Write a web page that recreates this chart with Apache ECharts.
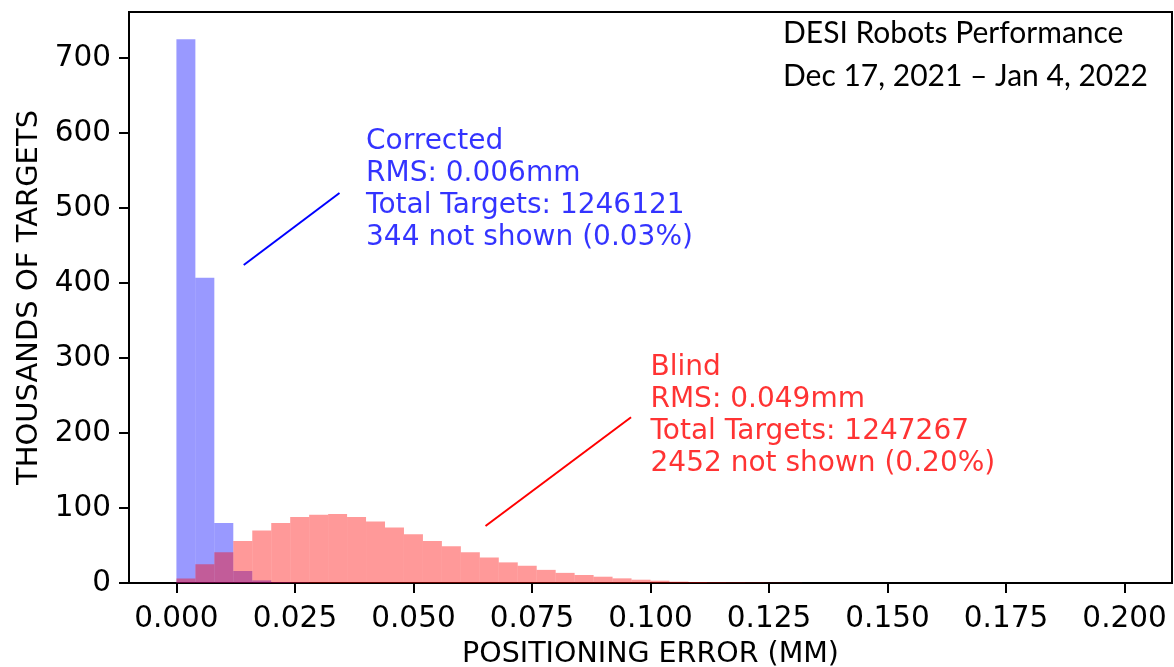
<!DOCTYPE html>
<html><head><meta charset="utf-8">
<script src="https://cdn.jsdelivr.net/npm/echarts@6/dist/echarts.min.js"></script>
<style>html,body{margin:0;padding:0;background:#fff}#c{width:1174px;height:667px}</style>
</head><body><div id="c"></div>
<script>
// bin left edges (mm), each bin 0.004 mm wide
const binLeft = [0.000,0.004,0.008,0.012,0.016,0.020,0.024,0.028,0.032,0.036,0.040,0.044,0.048,0.052,0.056,0.060,0.064,0.068,0.072,0.076,0.080,0.084,0.088,0.092,0.096,0.100,0.104,0.108,0.112,0.116,0.120,0.124,0.128];
const binWidth = 0.004;
// thousands of targets per bin
const correctedCounts = [725,407,80,16,3.5,1,0.5];
const blindCounts = [6,25,41,56,70,80,88,91,92,88,82,74,65,56,49,41,34,27.5,23,17.5,13.5,10.7,8.4,6.2,4.4,3.1,1.8,1.3,1.0,0.8,0.6,0.4,0.3];
const xTicks = [0,0.025,0.05,0.075,0.1,0.125,0.15,0.175,0.2];
const yTicks = [0,100,200,300,400,500,600,700];
const correctedText = ['Corrected','RMS: 0.006mm','Total Targets: 1246121','344 not shown (0.03%)'];
const blindText = ['Blind','RMS: 0.049mm','Total Targets: 1247267','2452 not shown (0.20%)'];
const correctedPointer = [[0.0142,424],[0.0344,520]];
const blindPointer = [[0.0652,76],[0.0959,221]];
const correctedTextAnchor = [0.04,609];
const blindTextAnchor = [0.10,309];
const titleLines = ['DESI Robots Performance','Dec 17, 2021 \u2013 Jan 4, 2022'];

const FONT = 'DejaVu Sans';
function histData(counts){
  return counts.map((v,i)=>[binLeft[i], binLeft[i]+binWidth, v]);
}
function histRender(color){
  return function(params, api){
    const x0=api.value(0), x1=api.value(1), v=api.value(2);
    if(!v) return;
    const p0=api.coord([x0,v]), p1=api.coord([x1,0]);
    return {type:'rect', shape:{x:p0[0], y:p0[1], width:p1[0]-p0[0], height:p1[1]-p0[1]}, style:{fill:color}};
  };
}
const chart = echarts.init(document.getElementById('c'), null, {renderer:'canvas'});
const labelStyle = (color)=>({show:true, position:[0,0], align:'left', verticalAlign:'top', color:color, fontFamily:FONT, fontSize:28, lineHeight:32});
chart.setOption({
  animation:false,
  backgroundColor:'#fff',
  grid:{left:129, right:2, top:12, bottom:84, show:true, borderColor:'#000', borderWidth:2, backgroundColor:'transparent', outerBoundsMode:'none'},
  xAxis:{type:'value', min:-0.01, max:0.21,
    name:'POSITIONING ERROR (MM)', nameLocation:'middle', nameGap:57,
    nameTextStyle:{fontFamily:FONT, fontSize:28.5, color:'#000'},
    axisLine:{show:true, onZero:false, lineStyle:{color:'#000', width:2}},
    axisTick:{show:true, length:10, lineStyle:{color:'#000', width:2}, customValues:xTicks},
    axisLabel:{show:true, margin:21, fontFamily:FONT, fontSize:29.5, color:'#000', customValues:xTicks, formatter:(v)=>v.toFixed(3)},
    splitLine:{show:false}},
  yAxis:{type:'value', min:0, max:761.25,
    name:'THOUSANDS OF TARGETS', nameLocation:'middle', nameGap:85,
    nameTextStyle:{fontFamily:FONT, fontSize:29, color:'#000'},
    axisLine:{show:true, onZero:false, lineStyle:{color:'#000', width:2}},
    axisTick:{show:true, length:10, lineStyle:{color:'#000', width:2}, customValues:yTicks},
    axisLabel:{show:true, margin:18, fontFamily:FONT, fontSize:29.5, color:'#000', customValues:yTicks, formatter:(v)=>String(Math.round(v))},
    splitLine:{show:false}},
  series:[
    {type:'custom', name:'Corrected', data:histData(correctedCounts), renderItem:histRender('rgba(0,0,255,0.4)'), encode:{x:[0,1], y:2}, silent:true, z:2},
    {type:'custom', name:'Blind', data:histData(blindCounts), renderItem:histRender('rgba(255,0,0,0.4)'), encode:{x:[0,1], y:2}, silent:true, z:3},
    {type:'line', data:correctedPointer, symbol:'none', lineStyle:{color:'#0000ff', width:2}, silent:true, z:4},
    {type:'line', data:blindPointer, symbol:'none', lineStyle:{color:'#ff0000', width:2}, silent:true, z:4},
    {type:'scatter', data:[correctedTextAnchor], symbolSize:0, itemStyle:{color:'transparent'}, silent:true, z:5,
      label:Object.assign(labelStyle('#0000ff'), {formatter:correctedText.join('\n')})},
    {type:'scatter', data:[blindTextAnchor], symbolSize:0, itemStyle:{color:'transparent'}, silent:true, z:5,
      label:Object.assign(labelStyle('#ff0000'), {formatter:blindText.join('\n')})}
  ],
  graphic:[
    {type:'text', left:783, top:12, silent:true, style:{text:titleLines.join('\n'), font:'30px Lato', lineHeight:43, fill:'#000'}}
  ]
});
</script></body></html>
